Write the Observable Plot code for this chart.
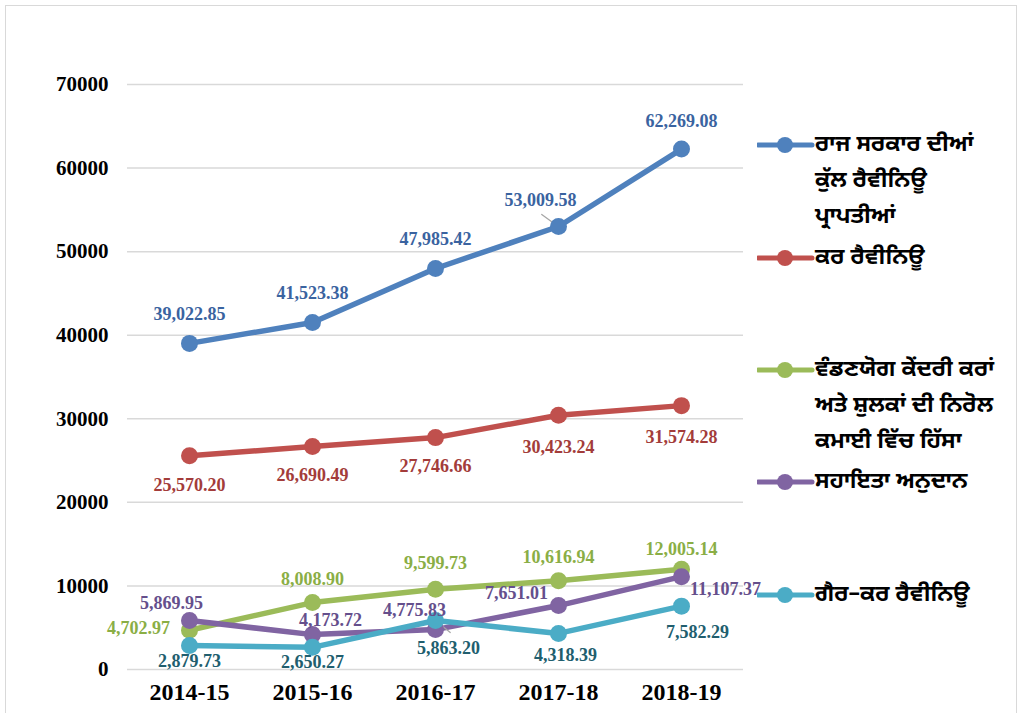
<!DOCTYPE html>
<html>
<head>
<meta charset="utf-8">
<script src="https://cdn.jsdelivr.net/npm/d3@7"></script>
<script src="https://cdn.jsdelivr.net/npm/@observablehq/plot@0.6"></script>
<style>
  html, body { margin: 0; padding: 0; background: #fff; }
  #wrap { position: relative; width: 1022px; height: 713px; overflow: hidden; background: #fff; }
  #frame { position: absolute; left: 5px; top: 5px; width: 1012px; height: 760px; border: 1.5px solid #d9d9d9; box-sizing: border-box; }
  #chart { position: absolute; left: 0; top: 0; }
  #legend { position: absolute; left: 0; top: 0; width: 1022px; height: 713px; pointer-events: none;
    font-family: "Noto Sans Gurmukhi", "Lohit Gurmukhi", "Raavi", "Noto Sans", sans-serif; font-size: 23px; font-weight: bold; color: #000; }
  .entry { position: absolute; left: 757px; }
  .entry svg { position: absolute; left: 0; top: 0; }
  .entry .txt { position: absolute; left: 58px; top: 0; white-space: nowrap; }
  .entry .ln { height: 36px; line-height: 36px; }
</style>
</head>
<body>
<div id="wrap">
  <div id="frame"></div>
  <div id="chart"></div>
  <div id="legend"></div>
</div>
<script>
// ---- data ----
const years = ["2014-15", "2015-16", "2016-17", "2017-18", "2018-19"];
const seriesNames = [
  "ਰਾਜ ਸਰਕਾਰ ਦੀਆਂ ਕੁੱਲ ਰੈਵੀਨਿਊ ਪ੍ਰਾਪਤੀਆਂ",
  "ਕਰ ਰੈਵੀਨਿਊ",
  "ਵੰਡਣਯੋਗ ਕੇਂਦਰੀ ਕਰਾਂ ਅਤੇ ਸ਼ੁਲਕਾਂ ਦੀ ਨਿਰੋਲ ਕਮਾਈ ਵਿੱਚ ਹਿੱਸਾ",
  "ਸਹਾਇਤਾ ਅਨੁਦਾਨ",
  "ਗੈਰ–ਕਰ ਰੈਵੀਨਿਊ"
];
const legendLines = [
  ["ਰਾਜ ਸਰਕਾਰ ਦੀਆਂ", "ਕੁੱਲ ਰੈਵੀਨਿਊ", "ਪ੍ਰਾਪਤੀਆਂ"],
  ["ਕਰ ਰੈਵੀਨਿਊ"],
  ["ਵੰਡਣਯੋਗ ਕੇਂਦਰੀ ਕਰਾਂ", "ਅਤੇ ਸ਼ੁਲਕਾਂ ਦੀ ਨਿਰੋਲ", "ਕਮਾਈ ਵਿੱਚ ਹਿੱਸਾ"],
  ["ਸਹਾਇਤਾ ਅਨੁਦਾਨ"],
  ["ਗੈਰ–ਕਰ ਰੈਵੀਨਿਊ"]
];
const totalRevenue   = [39022.85, 41523.38, 47985.42, 53009.58, 62269.08];
const taxRevenue     = [25570.20, 26690.49, 27746.66, 30423.24, 31574.28];
const centralShare   = [4702.97, 8008.90, 9599.73, 10616.94, 12005.14];
const grantsInAid    = [5869.95, 4173.72, 4775.83, 7651.01, 11107.37];
const nonTaxRevenue  = [2879.73, 2650.27, 5863.20, 4318.39, 7582.29];
const yTicks = [0, 10000, 20000, 30000, 40000, 50000, 60000, 70000];

// ---- styles / layout (not data) ----
const lineColors  = ["#4F81BD", "#C0504D", "#9BBB59", "#8064A2", "#4BACC6"];
const labelColors = ["#3A63A0", "#A33C3A", "#8AAE45", "#654F8C", "#215E6E"];
// label offsets [dx, dy] per series per year
const labelOffsets = [
  [[0, -29], [0, -29], [0, -29], [-18, -26], [0, -28]],
  [[0, 29], [0, 29], [0, 29], [0, 32], [0, 32]],
  [[-51, -2], [0, -23], [0, -26], [0, -24], [0, -20]],
  [[-18, -17], [18, -14], [-21, -19], [-42, -12], [44, 13]],
  [[0, 16], [0, 15], [13, 28], [7, 22], [16, 26]]
];
const legendTops = [145, 258, 370, 482, 595];

const allSeries = [totalRevenue, taxRevenue, centralShare, grantsInAid, nonTaxRevenue];
const table = [];
allSeries.forEach((vals, si) => {
  vals.forEach((v, yi) => {
    table.push({ series: seriesNames[si], si, year: years[yi], value: v,
      dx: labelOffsets[si][yi][0], dy: labelOffsets[si][yi][1] });
  });
});
const fmt = d3.format(",.2f");

const labelMarks = table.map(d => Plot.text([d], {
  x: "year", y: "value", text: d => fmt(d.value),
  dx: d.dx, dy: d.dy, fill: labelColors[d.si],
  fontFamily: "'Liberation Serif', 'Times New Roman', serif",
  fontWeight: "bold", fontSize: 18, textAnchor: "middle", lineAnchor: "middle"
}));

// leader lines
const leaderShape = { draw(ctx, l) { ctx.moveTo(0, 0); ctx.lineTo(0, -l); } };
const leaders = [
  Plot.vector([table.find(d => d.si === 0 && d.year === "2017-18")], {
    x: "year", y: "value", length: 17, rotate: -54, anchor: "start", shape: leaderShape,
    dx: -3, dy: -2, stroke: "#a6a6a6", strokeWidth: 1.3
  }),
  Plot.vector([table.find(d => d.si === 4 && d.year === "2016-17")], {
    x: "year", y: "value", length: 19, rotate: 129, anchor: "start", shape: leaderShape,
    dx: 0, dy: 0, stroke: "#a6a6a6", strokeWidth: 1.3
  })
];

const chart = Plot.plot({
  width: 1022,
  height: 713,
  marginTop: 84,
  marginBottom: 44,
  marginLeft: 127,
  marginRight: 279,
  style: { background: "transparent", overflow: "visible" },
  x: { type: "point", domain: years, padding: 0.5, label: null },
  y: { domain: [0, 70000], label: null },
  color: { domain: seriesNames, range: lineColors },
  marks: [
    Plot.gridY(yTicks, { stroke: "#d9d9d9", strokeOpacity: 1, strokeWidth: 1.5 }),
    Plot.axisY(yTicks, {
      tickSize: 0, tickPadding: 19, tickFormat: d => String(d), label: null,
      fontSize: 21, fontWeight: "bold", fill: "#000",
      fontFamily: "'Liberation Serif', 'Times New Roman', serif"
    }),
    Plot.axisX({
      tickSize: 0, tickPadding: 13, label: null,
      fontSize: 24, fontWeight: "bold", fill: "#000",
      fontFamily: "'Liberation Serif', 'Times New Roman', serif"
    }),
    Plot.line(table, { x: "year", y: "value", z: "series", stroke: "series", strokeWidth: 5.5, strokeLinejoin: "round", strokeLinecap: "round" }),
    ...leaders,
    Plot.dot(table, { x: "year", y: "value", fill: "series", r: 8.5, stroke: null }),
    ...labelMarks
  ]
});
document.getElementById("chart").appendChild(chart);

// legend
const legend = document.getElementById("legend");
seriesNames.forEach((name, i) => {
  const e = document.createElement("div");
  e.className = "entry";
  e.style.top = (legendTops[i] - 18) + "px";
  e.innerHTML =
    `<svg width="58" height="36"><line x1="1" y1="18" x2="55" y2="18" stroke="${lineColors[i]}" stroke-width="5" stroke-linecap="round"/>` +
    `<circle cx="28" cy="18" r="8" fill="${lineColors[i]}"/></svg>` +
    `<div class="txt">${legendLines[i].map(l => `<div class="ln">${l}</div>`).join("")}</div>`;
  legend.appendChild(e);
});
</script>
</body>
</html>
